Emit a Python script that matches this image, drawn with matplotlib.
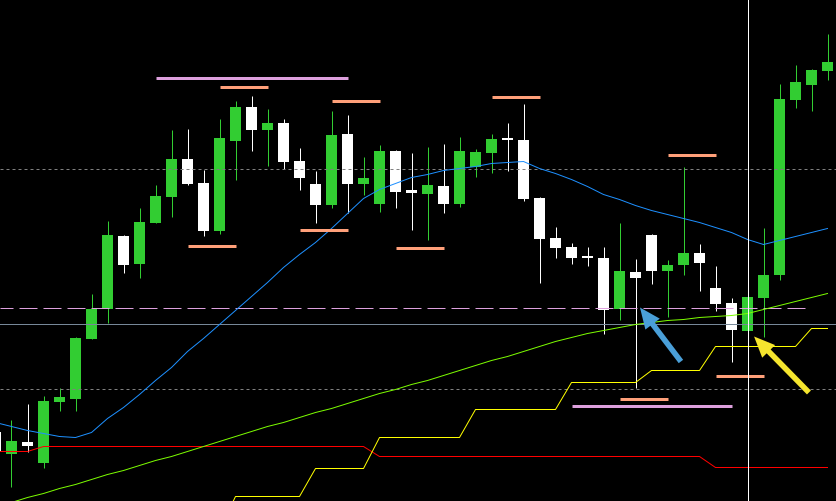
import numpy as np
import matplotlib
matplotlib.use("Agg")
import matplotlib.pyplot as plt

# bar -1 is the candle cut off at the left edge
bars = np.arange(-1, 52)

opens = [1.2068, 1.2046, 1.2058, 1.2037, 1.2098, 1.2101, 1.2161, 1.2191, 1.2264, 1.2236,
         1.2277, 1.2303, 1.2341, 1.2317, 1.2269, 1.2359, 1.2393, 1.2370, 1.2377, 1.2339,
         1.2316, 1.2295, 1.2366, 1.2316, 1.2296, 1.2349, 1.2310, 1.2306, 1.2314, 1.2296,
         1.2333, 1.2347, 1.2362, 1.2360, 1.2302, 1.2262, 1.2253, 1.2244, 1.2242, 1.2191,
         1.2228, 1.2265, 1.2229, 1.2235, 1.2247, 1.2212, 1.2197, 1.2169, 1.2202, 1.2225,
         1.2400, 1.2415, 1.2429]
highs = [1.2072, 1.2080, 1.2096, 1.2104, 1.2112, 1.2163, 1.2206, 1.2279, 1.2265, 1.2292,
         1.2315, 1.2370, 1.2371, 1.2330, 1.2381, 1.2399, 1.2404, 1.2391, 1.2381, 1.2352,
         1.2329, 1.2389, 1.2385, 1.2343, 1.2355, 1.2350, 1.2347, 1.2353, 1.2356, 1.2363,
         1.2351, 1.2366, 1.2377, 1.2396, 1.2303, 1.2273, 1.2257, 1.2253, 1.2253, 1.2277,
         1.2241, 1.2266, 1.2240, 1.2333, 1.2256, 1.2234, 1.2202, 1.2203, 1.2272, 1.2416,
         1.2435, 1.2431, 1.2466]
lows = [1.2042, 1.2013, 1.2048, 1.2032, 1.2089, 1.2089, 1.2161, 1.2177, 1.2227, 1.2222,
        1.2277, 1.2283, 1.2315, 1.2264, 1.2266, 1.2320, 1.2349, 1.2334, 1.2331, 1.2310,
        1.2277, 1.2292, 1.2287, 1.2305, 1.2288, 1.2292, 1.2270, 1.2260, 1.2287, 1.2293,
        1.2323, 1.2327, 1.2329, 1.2299, 1.2217, 1.2242, 1.2236, 1.2234, 1.2166, 1.2180,
        1.2112, 1.2216, 1.2183, 1.2225, 1.2209, 1.2189, 1.2138, 1.2169, 1.2163, 1.2220,
        1.2392, 1.2389, 1.2420]
closes = [1.2047, 1.2059, 1.2054, 1.2099, 1.2103, 1.2162, 1.2191, 1.2265, 1.2235, 1.2278,
          1.2304, 1.2341, 1.2316, 1.2269, 1.2362, 1.2393, 1.2370, 1.2377, 1.2338, 1.2322,
          1.2295, 1.2365, 1.2316, 1.2322, 1.2349, 1.2308, 1.2307, 1.2315, 1.2296, 1.2349,
          1.2348, 1.2361, 1.2360, 1.2301, 1.2261, 1.2252, 1.2242, 1.2242, 1.2190, 1.2228,
          1.2222, 1.2228, 1.2235, 1.2247, 1.2237, 1.2196, 1.2170, 1.2203, 1.2225, 1.2401,
          1.2418, 1.2430, 1.2438]

# moving averages
ma_fast = [1.2077, 1.2073, 1.2069, 1.2066, 1.2063, 1.2062, 1.2067, 1.2081, 1.2092, 1.2105,
           1.2119, 1.2132, 1.2148, 1.2161, 1.2175, 1.2189, 1.2203, 1.2217, 1.2232, 1.2245,
           1.2257, 1.2271, 1.2286, 1.2301, 1.2310, 1.2316, 1.2322, 1.2325, 1.2329, 1.2331,
           1.2333, 1.2336, 1.2337, 1.2338, 1.2331, 1.2326, 1.2320, 1.2313, 1.2305, 1.2300,
           1.2294, 1.2289, 1.2285, 1.2281, 1.2277, 1.2272, 1.2267, 1.2260, 1.2255, 1.2259,
           1.2263, 1.2267, 1.2271]
ma_slow = [1.1992, 1.1997, 1.2002, 1.2006, 1.2011, 1.2015, 1.2020, 1.2025, 1.2029, 1.2034,
           1.2039, 1.2043, 1.2048, 1.2053, 1.2058, 1.2063, 1.2068, 1.2073, 1.2077, 1.2082,
           1.2087, 1.2091, 1.2096, 1.2101, 1.2106, 1.2110, 1.2115, 1.2119, 1.2124, 1.2129,
           1.2134, 1.2139, 1.2143, 1.2148, 1.2153, 1.2158, 1.2162, 1.2166, 1.2169, 1.2172,
           1.2175, 1.2177, 1.2179, 1.2180, 1.2182, 1.2183, 1.2184, 1.2186, 1.2190, 1.2194,
           1.2198, 1.2202, 1.2206]

# stepped lines (yellow rising stop, red lower line)
nan = np.nan
step_up = [nan] * 14 + [1.1970] + [1.2003] * 5 + [1.2031] * 4 + [1.2062] * 6 \
    + [1.2090] * 6 + [1.2117] * 5 + [1.2129] * 4 + [1.2153] * 6 + [1.2171] * 2
step_low = [1.2048] * 3 + [1.2053] * 21 + [1.2043] * 21 + [1.2032] * 8

# horizontal levels
grey_levels = [1.2331, 1.2111]
pink_level = 1.2192
slate_level = 1.2176
cursor_bar = 46

# short thick level marks: price, first bar, last bar
plum_marks = [(1.2422, 9, 21), (1.2094, 35, 45)]
salmon_marks = [(1.2413, 13, 16), (1.2254, 11, 14), (1.2399, 20, 23), (1.2270, 18, 21),
                (1.2252, 24, 27), (1.2403, 30, 33), (1.2345, 41, 44), (1.2101, 38, 41),
                (1.2124, 44, 47)]

# arrows: tip (bar, price), tail (bar, price), colour
arrows = [((39.28, 1.2192), (41.84, 1.2138), "#4a9fd8"),
          ((46.41, 1.2163), (49.84, 1.2107), "#f5e52e")]

PX = 72 / 100  # one pixel in points

fig = plt.figure(figsize=(8.36, 5.02), dpi=100, facecolor="black")
ax = fig.add_axes([0, 0, 1, 1])
ax.set_facecolor("black")

o = np.array(opens)
c = np.array(closes)
up = c >= o
colours = np.where(up, "#32cd32", "#ffffff")

ax.vlines(bars, lows, highs, colors=colours, lw=PX, zorder=2)
ax.bar(bars, c - o, bottom=o, width=11 / 16, color=colours, linewidth=0,
       antialiased=False, zorder=2)

for lvl in grey_levels:
    ax.axhline(lvl, color="#808080", lw=PX, linestyle=(0, (3, 3)), zorder=3)
ax.axhline(slate_level, color="#778899", lw=PX, zorder=3)
ax.hlines(pink_level, -0.72, 49.6, color="#dda0dd", lw=PX, linestyle=(5, (18, 6)), zorder=3)

ax.plot(bars, step_low, color="#ff0000", lw=PX, zorder=3)
ax.plot(bars, step_up, color="#ffff00", lw=PX, zorder=3)
ax.plot(bars, ma_slow, color="#7cfc00", lw=PX, zorder=3)
ax.plot(bars, ma_fast, color="#1e90ff", lw=PX, zorder=3)

for price, a, b in plum_marks:
    ax.hlines(price, a, b, color="#dda0dd", lw=3 * PX, zorder=4)
for price, a, b in salmon_marks:
    ax.hlines(price, a, b, color="#ffa07a", lw=3 * PX, zorder=4)

ax.axvline(cursor_bar, color="white", lw=PX, zorder=4)

for tip, tail, col in arrows:
    ax.annotate("", xy=tip, xytext=tail,
                arrowprops=dict(facecolor=col, edgecolor="none", width=4,
                                headwidth=13, headlength=15, shrink=0),
                zorder=5)

ax.set_xlim(-11.5 / 16, (836 - 11.5) / 16)
ax.set_ylim(1.19985, 1.25005)
ax.set_xticks([])
ax.set_yticks([])
for s in ax.spines.values():
    s.set_visible(False)

fig.savefig("out.png", dpi=100, facecolor="black")
